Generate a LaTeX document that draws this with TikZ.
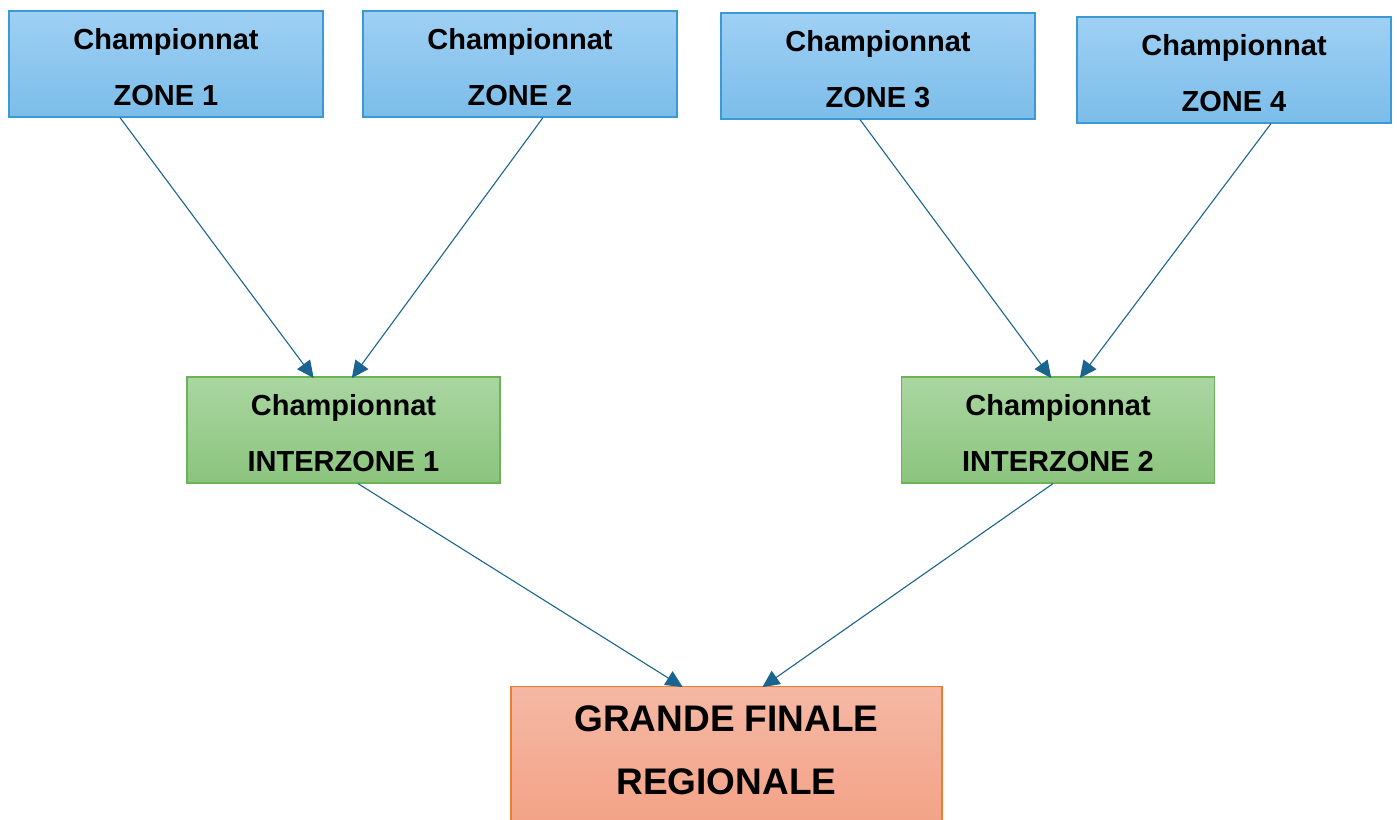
\documentclass[tikz,border=0pt]{standalone}
\usepackage{fontspec}
\setmainfont{Liberation Sans}
\usetikzlibrary{arrows.meta}
\definecolor{bluetop}{HTML}{9FD0F4}
\definecolor{bluebot}{HTML}{7BBDE9}
\definecolor{blueline}{HTML}{3A9AD6}
\definecolor{greentop}{HTML}{AAD6A1}
\definecolor{greenbot}{HTML}{8BC47D}
\definecolor{greenline}{HTML}{6AB357}
\definecolor{orangetop}{HTML}{F5B8A4}
\definecolor{orangebot}{HTML}{F39F82}
\definecolor{orangeline}{HTML}{ED7D31}
\definecolor{arrowcol}{HTML}{1C6490}
\tikzset{
  boxtext/.style={align=center, inner sep=0pt, yshift=-3pt,
    font=\bfseries\fontsize{29}{56}\selectfont},
  box/.style={rectangle, line width=1.2pt, inner sep=0pt},
  zonebox/.style={box, draw=blueline, top color=bluetop, bottom color=bluebot,
    minimum width=314pt, minimum height=106pt},
  interbox/.style={box, draw=greenline, top color=greentop, bottom color=greenbot,
    minimum width=313pt, minimum height=106pt},
  finbox/.style={rectangle, line width=1.2pt, draw=orangeline, top color=orangetop,
    bottom color=orangebot, minimum width=431pt, minimum height=160pt, anchor=north},
  fintext/.style={align=center, inner sep=0pt, font=\bfseries\fontsize{37}{63}\selectfont},
  conn/.style={draw=arrowcol, line width=1.1pt, -{Triangle[length=17pt,width=16pt]}, shorten >=-2pt}
}
\begin{document}
\begin{tikzpicture}[x=1pt,y=-1pt]
\useasboundingbox (0,0) rectangle (1397,819);
\node[zonebox, label={[boxtext]center:Championnat\\ZONE 1}] (z1) at (166,64) {};
\node[zonebox, label={[boxtext]center:Championnat\\ZONE 2}] (z2) at (520,64) {};
\node[zonebox, label={[boxtext]center:Championnat\\ZONE 3}] (z3) at (878,66) {};
\node[zonebox, label={[boxtext]center:Championnat\\ZONE 4}] (z4) at (1234,70) {};
\node[interbox, label={[boxtext]center:Championnat\\INTERZONE 1}] (i1) at (343.5,430) {};
\node[interbox, label={[boxtext]center:Championnat\\INTERZONE 2}] (i2) at (1058,430) {};
\node[finbox] (fin) at (726.5,686) {};
\node[fintext] (fint) at (726.5,750) {GRANDE FINALE\\REGIONALE};
\draw[conn] ([xshift=-46pt]z1.south) -- ([xshift=-31pt]i1.north);
\draw[conn] ([xshift=23pt]z2.south) -- ([xshift=9.5pt]i1.north);
\draw[conn] ([xshift=-18pt]z3.south) -- ([xshift=-8pt]i2.north);
\draw[conn] ([xshift=37pt]z4.south) -- ([xshift=23pt]i2.north);
\draw[conn] ([xshift=14.5pt]i1.south) -- ([xshift=-45.5pt]fin.north);
\draw[conn] ([xshift=-5pt]i2.south) -- ([xshift=37.5pt]fin.north);
\end{tikzpicture}
\end{document}
